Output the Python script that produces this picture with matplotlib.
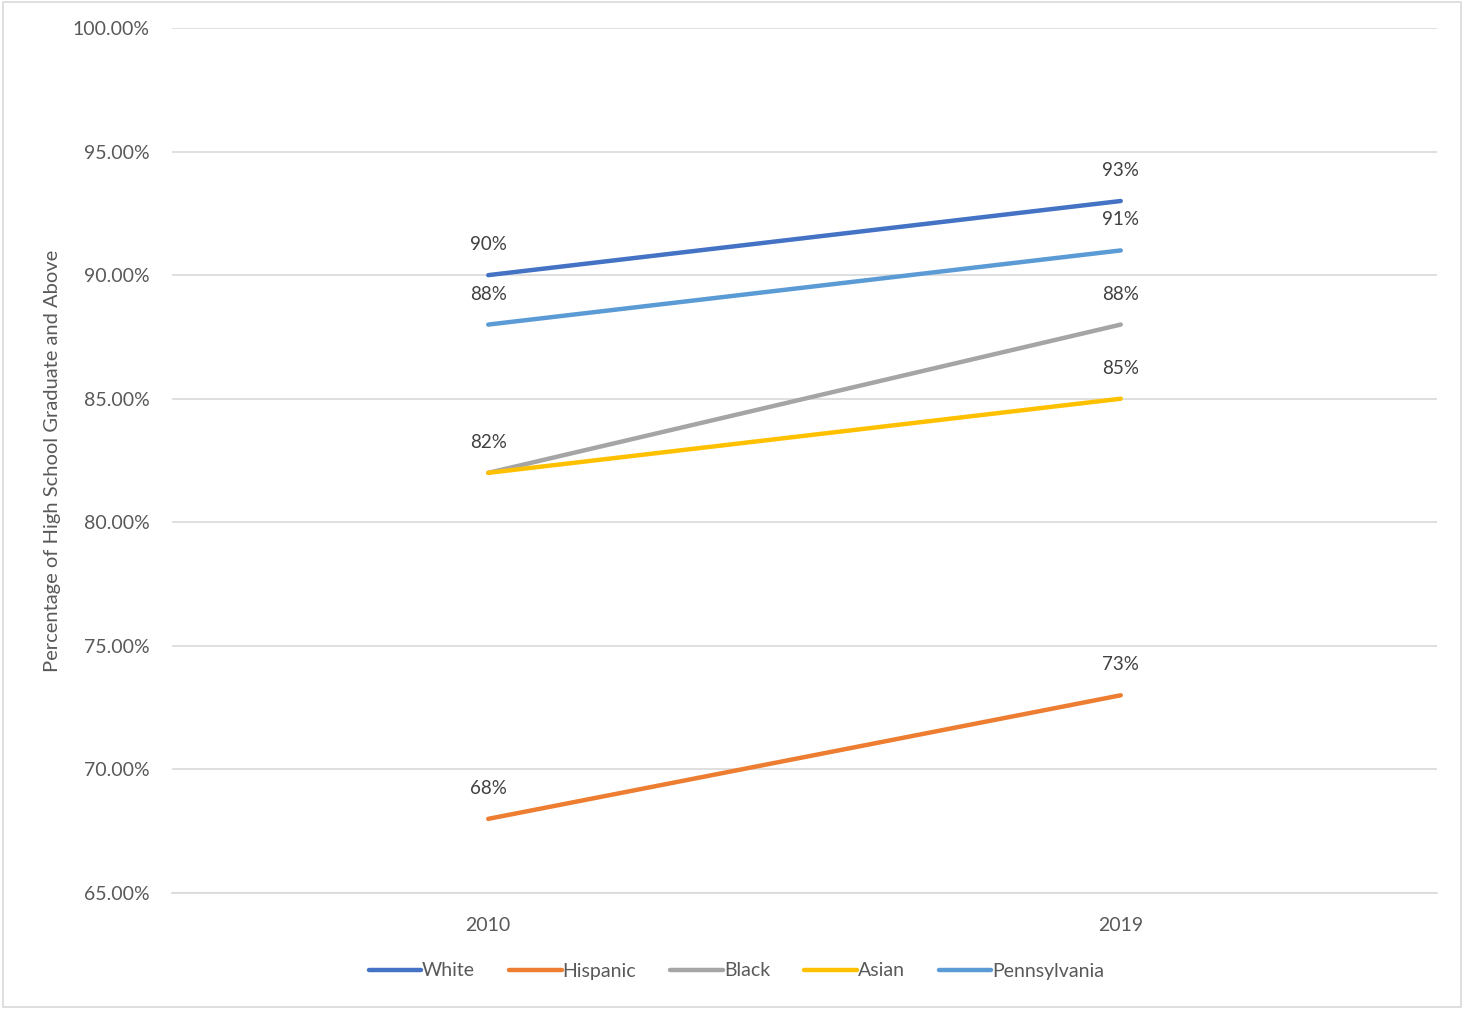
import matplotlib
matplotlib.use("Agg")
import matplotlib.pyplot as plt
from matplotlib.patches import Rectangle

years = ["2010", "2019"]
series_names = ["White", "Hispanic", "Black", "Asian", "Pennsylvania"]
white = [90, 93]
hispanic = [68, 73]
black = [82, 88]
asian = [82, 85]
pennsylvania = [88, 91]
values = [white, hispanic, black, asian, pennsylvania]
colors = ["#4472C4", "#ED7D31", "#A5A5A5", "#FFC000", "#5B9BD5"]
yticks = [65, 70, 75, 80, 85, 90, 95, 100]

plt.rcParams['font.family'] = ['Lato', 'DejaVu Sans']
txt = "#595959"

fig = plt.figure(figsize=(14.64, 10.09), dpi=100)
fig.patches.append(Rectangle((0.002, 0.002), 0.996, 0.996, transform=fig.transFigure,
                             fill=False, edgecolor="#D9D9D9", linewidth=1.2))
ax = fig.add_axes([172/1464, 1-893/1009, (1437-172)/1464, (893-28)/1009])

x = [0.5, 1.5]
labeled = set()
for name, vals, c in zip(series_names, values, colors):
    ax.plot(x, vals, color=c, linewidth=3.2, solid_capstyle='round', label=name, zorder=3)
    for xi, v in zip(x, vals):
        if (xi, v) in labeled:
            continue
        labeled.add((xi, v))
        ax.annotate(f"{v}%", (xi, v), xytext=(0, 22), textcoords="offset points",
                    ha="center", va="center", fontsize=13.5, color="#404040", zorder=4)

ax.set_xlim(0, 2)
ax.set_ylim(65, 100)
ax.set_yticks(yticks)
ax.set_yticklabels([f"{t:.2f}%" for t in yticks])
ax.set_xticks(x)
ax.set_xticklabels(years)
ax.grid(axis='y', color="#D9D9D9", linewidth=1.2, zorder=0)
ax.set_axisbelow(True)
for s in ["top", "right", "left"]:
    ax.spines[s].set_visible(False)
ax.spines["bottom"].set_color("#D9D9D9")
ax.spines["bottom"].set_linewidth(1.2)
ax.tick_params(axis='both', length=0, labelsize=14, colors=txt)
ax.tick_params(axis='y', pad=16)
ax.tick_params(axis='x', pad=17)
ax.set_ylabel("Percentage of High School Graduate and Above", fontsize=14.5, color=txt)
ax.yaxis.set_label_coords(-0.088, 0.5)

leg = fig.legend(loc="center", bbox_to_anchor=(0.503, 1-971/1009), ncol=5, frameon=False,
                 fontsize=14, handlelength=2.7, handletextpad=0.05, columnspacing=1.75)
for t in leg.get_texts():
    t.set_color(txt)
for h in leg.get_lines():
    h.set_linewidth(3.2)

fig.savefig("out.png", dpi=100)
